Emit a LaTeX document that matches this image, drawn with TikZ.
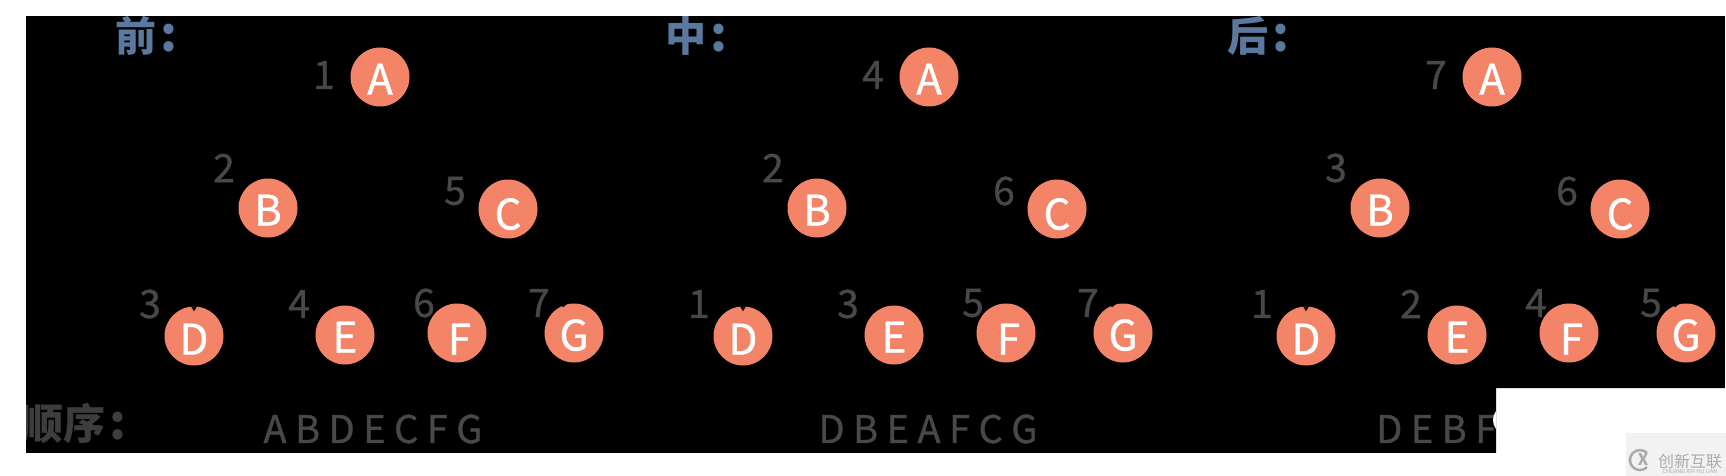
\documentclass[tikz,border=0pt]{standalone}
\usepackage{fontspec}
\setmainfont{Noto Sans CJK SC}
\newfontfamily\medfont[FakeBold=0.9]{Noto Sans CJK SC}
\usetikzlibrary{positioning}
\definecolor{coral}{RGB}{243, 132, 104}
\definecolor{ink}{RGB}{72, 72, 72}
\definecolor{heading}{RGB}{91, 120, 159}
\definecolor{markbg}{RGB}{242, 242, 242}
\definecolor{markfg}{RGB}{170, 170, 170}
\tikzset{
  vertex/.style={circle, fill=coral, text=white, minimum size=59pt, inner sep=0pt, text height=35pt, text depth=0pt, font=\medfont\fontsize{42}{42}\selectfont},
  order/.style={text=ink, inner sep=0pt, font=\medfont\fontsize{39}{39}\selectfont},
  walk/.style={text=ink, inner sep=0pt, font=\medfont\fontsize{38}{38}\selectfont},
  title/.style={text=heading, inner sep=0pt, font=\fontsize{41}{41}\selectfont\bfseries},
}
\newcommand{\bigcolon}{\hspace{4pt}{\fontsize{48}{48}\selectfont:}}

\begin{document}
\begin{tikzpicture}[x=1pt, y=-1pt, on grid]
        \useasboundingbox (0,0) rectangle (1726,476);
        \fill[white] (0,0) rectangle (1726,476);
        \begin{scope}
        \clip (26,16) -- (1725,16) -- (1725,388) -- (1496,388) -- (1496,453) -- (26,453) -- cycle;
        \fill[black] (26,16) rectangle (1725,453);

        % Titles
        \node[title] (t1) at (146,36) {前\bigcolon};
        \node[title] (t2) at (696,36) {中\bigcolon};
        \node[title] (t3) at (1258,36) {后\bigcolon};
        \node[text=ink!85!black, inner sep=0pt, font=\fontsize{42}{42}\selectfont\bfseries] (t4) at (74,423) {顺序\bigcolon};

        % First tree
        \node[vertex] (a1) at (380,77) {A};
        \node[vertex, below left=131pt and 112pt of a1] (b1) {B};
        \node[vertex, below right=132pt and 128pt of a1] (c1) {\raisebox{-3pt}{C}};
        \node[vertex, below left=128pt and 74pt of b1] (d1) {\raisebox{-1pt}{D}};
        \node[vertex, below right=127pt and 77pt of b1] (e1) {E};
        \node[vertex, below left=124pt and 51pt of c1] (f1) {\hspace{5pt}\raisebox{-4pt}{F}};
        \node[vertex, below right=124pt and 66pt of c1] (g1) {G};
        \node[order, above left=2pt and 56pt of a1] (na1) {1};
        \node[order, above left=40pt and 44pt of b1] (nb1) {2};
        \node[order, above left=18pt and 53pt of c1] (nc1) {5};
        \node[order, above left=32pt and 44pt of d1] (nd1) {3};
        \node[order, above left=31pt and 46pt of e1] (ne1) {4};
        \node[order, above left=30pt and 33pt of f1] (nf1) {6};
        \node[order, above left=30pt and 35pt of g1] (ng1) {7};
        \node[walk] (w1) at (373,429) {A B D E C F G};

        % Second tree
        \node[vertex] (a2) at (929,77) {A};
        \node[vertex, below left=131pt and 112pt of a2] (b2) {B};
        \node[vertex, below right=132pt and 128pt of a2] (c2) {\raisebox{-3pt}{C}};
        \node[vertex, below left=128pt and 74pt of b2] (d2) {\raisebox{-1pt}{D}};
        \node[vertex, below right=127pt and 77pt of b2] (e2) {E};
        \node[vertex, below left=124pt and 51pt of c2] (f2) {\hspace{5pt}\raisebox{-4pt}{F}};
        \node[vertex, below right=124pt and 66pt of c2] (g2) {G};
        \node[order, above left=2pt and 56pt of a2] (na2) {4};
        \node[order, above left=40pt and 44pt of b2] (nb2) {2};
        \node[order, above left=18pt and 53pt of c2] (nc2) {6};
        \node[order, above left=32pt and 44pt of d2] (nd2) {1};
        \node[order, above left=31pt and 46pt of e2] (ne2) {3};
        \node[order, above left=30pt and 33pt of f2] (nf2) {5};
        \node[order, above left=30pt and 35pt of g2] (ng2) {7};
        \node[walk] (w2) at (928,429) {D B E A F C G};

        % Third tree
        \node[vertex] (a3) at (1492,77) {A};
        \node[vertex, below left=131pt and 112pt of a3] (b3) {B};
        \node[vertex, below right=132pt and 128pt of a3] (c3) {\raisebox{-3pt}{C}};
        \node[vertex, below left=128pt and 74pt of b3] (d3) {\raisebox{-1pt}{D}};
        \node[vertex, below right=127pt and 77pt of b3] (e3) {E};
        \node[vertex, below left=124pt and 51pt of c3] (f3) {\hspace{5pt}\raisebox{-4pt}{F}};
        \node[vertex, below right=124pt and 66pt of c3] (g3) {G};
        \node[order, above left=2pt and 56pt of a3] (na3) {7};
        \node[order, above left=40pt and 44pt of b3] (nb3) {3};
        \node[order, above left=18pt and 53pt of c3] (nc3) {6};
        \node[order, above left=32pt and 44pt of d3] (nd3) {1};
        \node[order, above left=31pt and 46pt of e3] (ne3) {2};
        \node[order, above left=30pt and 33pt of f3] (nf3) {4};
        \node[order, above left=30pt and 35pt of g3] (ng3) {5};
        \node[walk, anchor=west] (w3) at (1376,429) {D E B F};

        % Nicks in the circles
        \fill[black] ([xshift=-3pt]d1.north) -- ([xshift=3pt]d1.north) -- ([yshift=-5pt]d1.north) -- cycle;
        \fill[black] ([xshift=-3pt]d2.north) -- ([xshift=3pt]d2.north) -- ([yshift=-5pt]d2.north) -- cycle;
        \fill[black] ([xshift=-3pt]d3.north) -- ([xshift=3pt]d3.north) -- ([yshift=-5pt]d3.north) -- cycle;
        \fill[black] ([xshift=-14pt]g1.north) -- ([xshift=-6pt]g1.north) -- ([xshift=-11pt, yshift=-4pt]g1.north) -- cycle;
        \fill[black] ([xshift=-14pt]g2.north) -- ([xshift=-6pt]g2.north) -- ([xshift=-11pt, yshift=-4pt]g2.north) -- cycle;
        \fill[black] ([xshift=-14pt]g3.north) -- ([xshift=-6pt]g3.north) -- ([xshift=-11pt, yshift=-4pt]g3.north) -- cycle;

        % White curl at the cut
        \fill[white] (1496,411) .. controls (1492,416) and (1492,424) .. (1496,429) -- cycle;
        \end{scope}

        % Watermark
        \fill[markbg] (1626,433) rectangle (1726,476);
        \draw[markfg, line width=2.5pt] (1647,453) arc (45:315:10pt);
        \node[text=markfg, inner sep=0pt, font=\fontsize{16}{16}\selectfont\bfseries] (lg) at (1643,460) {X};
        \node[text=markfg, inner sep=0pt, font=\fontsize{16}{16}\selectfont] (m1) at (1690,461) {创新互联};
        \node[text=markfg, inner sep=0pt, font=\fontsize{5.5}{5.5}\selectfont] (m2) at (1690,471) {CHUANG XIN HU LIAN};
    \end{tikzpicture}
\end{document}
